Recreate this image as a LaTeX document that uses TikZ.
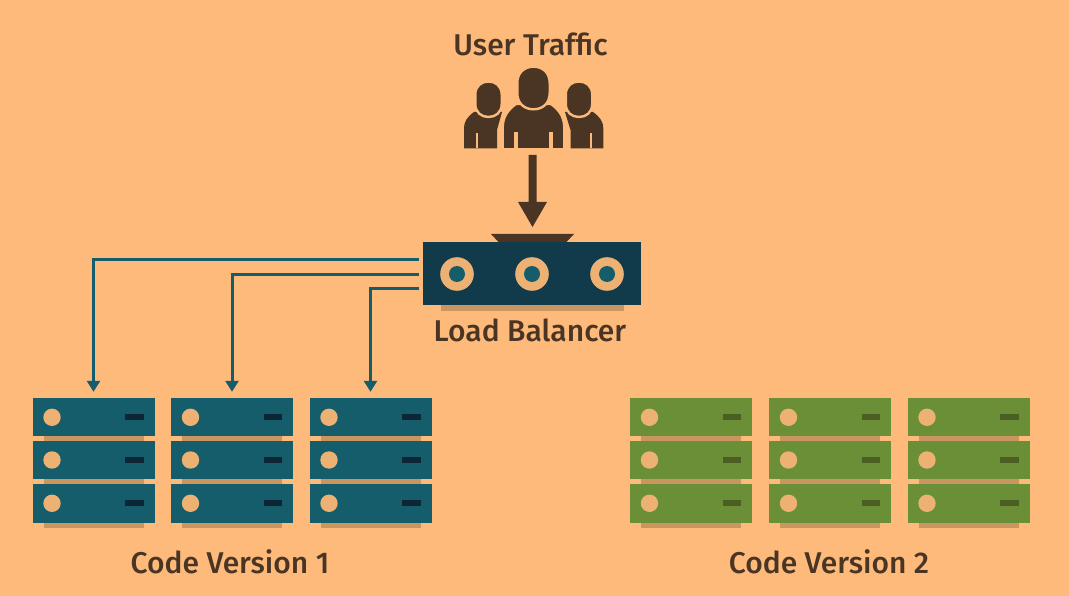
\documentclass[tikz,border=0pt]{standalone}
\usepackage{fontspec}
\setmainfont{Fira Sans}[UprightFont=* Medium]
\usetikzlibrary{arrows.meta}
\definecolor{bgc}{HTML}{FEBA7A}
\definecolor{brownc}{HTML}{4A3524}
\definecolor{tealc}{HTML}{155D6B}
\definecolor{navyc}{HTML}{113A4A}
\definecolor{greenc}{HTML}{6A8F36}
\definecolor{slotb}{HTML}{0D2535}
\definecolor{slotg}{HTML}{4B5F25}
\definecolor{shadowc}{HTML}{C9965F}
\definecolor{discc}{HTML}{EDB273}
\tikzset{
  lbl/.style={text=brownc,font=\fontsize{30}{34}\selectfont,inner sep=0pt},
  link/.style={draw=tealc,line width=3pt,shorten >=6.5pt,-{Triangle[length=11pt,width=13pt,fill=tealc]}},
  gap/.style={draw=bgc,line width=2.4pt},
}
% #1 name, #2 left x, #3 colour, #4 slot colour
\newcommand{\rack}[4]{%
  \foreach \t/\h/\r in {398.3/37.7/a,441/38.3/b,484.3/38.4/c}{%
    \fill[shadowc] (#2+11,\t+\h-1) rectangle (#2+111,\t+\h+5.6);
    \node[fill=#3,minimum width=122pt,minimum height=\h pt,inner sep=0pt,outer sep=0pt,anchor=north west] (#1\r) at (#2,\t) {};
    \fill[discc] (#2+19.5,\t+19) circle[radius=8.7];
    \fill[#4] (#2+92.5,\t+16) rectangle (#2+111,\t+22);
  }%
}
\newcommand{\headshape}[5]{% cx, top, bottom, half width, style
  \filldraw[#5] (#1-#4,#2+#4) .. controls (#1-#4,#2+#4*0.35) and (#1-#4*0.55,#2) .. (#1,#2)
    .. controls (#1+#4*0.55,#2) and (#1+#4,#2+#4*0.35) .. (#1+#4,#2+#4)
    -- (#1+#4,#3-#4) .. controls (#1+#4,#3-#4*0.35) and (#1+#4*0.55,#3) .. (#1,#3)
    .. controls (#1-#4*0.55,#3) and (#1-#4,#3-#4*0.35) .. (#1-#4,#3-#4) -- cycle;
}
\begin{document}
\begin{tikzpicture}[x=1pt,y=-1pt]
\useasboundingbox (0,0) rectangle (1069,596);
\fill[bgc] (0,0) rectangle (1069,596);
% users
\node[lbl] (ut) at (530.5,44.5) {User Traffic};
\fill[brownc] (464,148.3) -- (464,128) .. controls (464,122) and (467,117) .. (474,112) -- (502,112) -- (497,130) -- (497,148.3) -- cycle;
\fill[brownc] (603.3,148.3) -- (603.3,128) .. controls (603.3,122) and (600,117) .. (593,112) -- (565,112) -- (570.5,130) -- (570.5,148.3) -- cycle;
\fill[bgc] (475.7,148.4) -- (475.7,133) -- (477.5,133) -- (477.5,148.4) -- cycle;
\fill[bgc] (591.6,148.4) -- (591.6,133) -- (589.8,133) -- (589.8,148.4) -- cycle;
\headshape{488.5}{81.5}{117}{13.2}{fill=brownc,gap}
\headshape{579}{81.5}{117}{13.2}{fill=brownc,gap}
\filldraw[fill=brownc,gap] (502.7,150) -- (502.7,128) .. controls (502.7,119) and (506,111) .. (516,104) -- (551,104) .. controls (561,111) and (564.3,119) .. (564.3,128) -- (564.3,150) -- cycle;
\fill[bgc] (498,148.4) rectangle (569,152);
\fill[bgc] (514,148.4) -- (514,132) -- (518.3,132) -- (518.3,148.4) -- cycle;
\fill[bgc] (549,148.4) -- (549,132) -- (553.3,132) -- (553.3,148.4) -- cycle;
\headshape{533.5}{66.7}{109.3}{16.2}{fill=brownc,gap}
% load balancer
\fill[shadowc] (441,300) rectangle (623.5,311.5);
\fill[brownc] (491,234) -- (574,234) -- (566,242.5) -- (499,242.5) -- cycle;
\node[fill=navyc,minimum width=217.7pt,minimum height=63pt,inner sep=0pt,outer sep=0pt,anchor=north west] (lb) at (423.3,242.3) {};
\foreach \cx in {457,532,607}{
  \fill[discc] (\cx,274) circle[radius=16.8];
  \fill[tealc] (\cx,274) circle[radius=8];
}
\node[lbl] (lbt) at (530,330.5) {Load Balancer};
% big arrow
\coordinate (us) at (532.5,155);
\fill[brownc] (us) ++(-4,0) -- ++(8,0) -- ++(0,47) -- ++(10.5,0) -- (532.5,227) -- (518,202) -- (528.5,202) -- cycle;
% racks
\rack{p}{32.5}{tealc}{slotb}
\rack{q}{171}{tealc}{slotb}
\rack{r}{309.5}{tealc}{slotb}
\rack{u}{630}{greenc}{slotg}
\rack{v}{769}{greenc}{slotg}
\rack{w}{907.5}{greenc}{slotg}
% connectors
\coordinate (o1) at (419,259.5);
\coordinate (o2) at (419,274.5);
\coordinate (o3) at (419,288.5);
\draw[link] (o1) -| (pa.north);
\draw[link] (o2) -| (qa.north);
\draw[link] (o3) -| (ra.north);
\node[lbl] (c1) at (230,562) {Code Version 1};
\node[lbl] (c2) at (829,562) {Code Version 2};
\end{tikzpicture}
\end{document}
